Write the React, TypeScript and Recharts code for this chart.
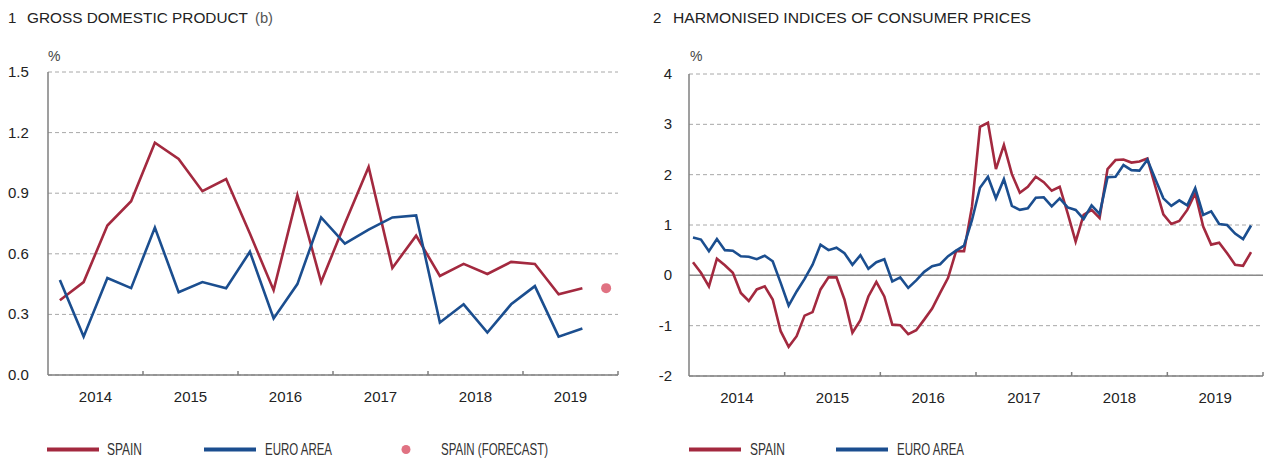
import React from 'react';
import { LineChart, Line, XAxis, YAxis, CartesianGrid, ReferenceLine } from 'recharts';

// year labels shared by both panels
const years = ['2014', '2015', '2016', '2017', '2018', '2019'];

// panel 1: quarterly GDP, q-o-q %, 2014 Q1 .. 2019 Q3
const spainGdp = [0.37, 0.46, 0.74, 0.86, 1.15, 1.07, 0.91, 0.97, 0.70, 0.42, 0.89, 0.46,
  0.75, 1.03, 0.53, 0.69, 0.49, 0.55, 0.50, 0.56, 0.55, 0.40, 0.43];
const euroGdp = [0.47, 0.19, 0.48, 0.43, 0.73, 0.41, 0.46, 0.43, 0.61, 0.28, 0.45, 0.78,
  0.65, 0.72, 0.78, 0.79, 0.26, 0.35, 0.21, 0.35, 0.44, 0.19, 0.23];
const spainGdpForecast = [{ quarter: 23, value: 0.43 }]; // 2019 Q4

// panel 2: monthly HICP, y-o-y %, Jan 2014 .. Nov 2019
const spainHicp = [
  0.26, 0.05, -0.22, 0.33, 0.20, 0.05, -0.35, -0.51, -0.28, -0.22, -0.48, -1.11,
  -1.42, -1.21, -0.80, -0.73, -0.28, -0.04, -0.04, -0.48, -1.14, -0.89, -0.42, -0.13,
  -0.42, -0.98, -0.99, -1.17, -1.09, -0.88, -0.66, -0.35, -0.05, 0.48, 0.48, 1.37,
  2.95, 3.03, 2.11, 2.59, 2.01, 1.64, 1.76, 1.96, 1.85, 1.68, 1.76, 1.23,
  0.67, 1.20, 1.30, 1.14, 2.11, 2.29, 2.30, 2.24, 2.26, 2.32, 1.76, 1.21,
  1.02, 1.08, 1.30, 1.63, 0.97, 0.61, 0.65, 0.44, 0.21, 0.19, 0.46];
const euroHicp = [
  0.75, 0.71, 0.48, 0.72, 0.50, 0.49, 0.38, 0.37, 0.32, 0.39, 0.28, -0.15,
  -0.60, -0.32, -0.07, 0.21, 0.61, 0.50, 0.55, 0.44, 0.21, 0.40, 0.13, 0.26,
  0.32, -0.12, -0.04, -0.25, -0.10, 0.07, 0.18, 0.22, 0.38, 0.49, 0.59, 1.10,
  1.74, 1.96, 1.53, 1.91, 1.38, 1.30, 1.33, 1.54, 1.55, 1.37, 1.53, 1.35,
  1.30, 1.12, 1.39, 1.22, 1.95, 1.96, 2.19, 2.09, 2.08, 2.30, 1.91, 1.53,
  1.38, 1.49, 1.39, 1.73, 1.20, 1.27, 1.02, 1.00, 0.83, 0.72, 0.99];

const gdpTicksY = [0, 0.3, 0.6, 0.9, 1.2, 1.5];
const hicpTicksY = [-2, -1, 0, 1, 2, 3, 4];

const RED = '#a3293f';
const BLUE = '#1b4e8f';
const PINK = '#e07282';
const AXIS = '#7f7f7f';
const GRID = '#a8a8a8';
const TXT = '#222';
const FONT = '"Liberation Sans", Arial, Helvetica, sans-serif';

const gdpData = Array.from({ length: 24 }, (_, i) => ({
  x: i + 0.5,
  spain: i < spainGdp.length ? spainGdp[i] : null,
  euro: i < euroGdp.length ? euroGdp[i] : null,
  forecast: spainGdpForecast.find((f) => f.quarter === i)?.value ?? null,
}));

const hicpData = Array.from({ length: 72 }, (_, i) => ({
  x: i + 0.5,
  spain: i < spainHicp.length ? spainHicp[i] : null,
  euro: i < euroHicp.length ? euroHicp[i] : null,
}));

// year boundaries get a small upward tick, mid-year positions get the label
const makeXTick = (perYear: number) => (props: any) => {
  const { x, y, payload } = props;
  const v = payload.value;
  if (v % perYear === 0) {
    return <line x1={x} x2={x} y1={y} y2={y - 4} stroke={AXIS} strokeWidth={1.5} />;
  }
  return (
    <text x={x} y={y + 27} textAnchor="middle" fontSize={15} fill={TXT} fontFamily={FONT}>
      {years[Math.floor(v / perYear)]}
    </text>
  );
};

const GdpYTick = (props: any) => (
  <text x={8} y={props.y + 5} textAnchor="start" fontSize={15} fill={TXT} fontFamily={FONT}>
    {Number(props.payload.value).toFixed(1)}
  </text>
);

const HicpYTick = (props: any) => (
  <text x={32} y={props.y + 5} textAnchor="end" fontSize={15} fill={TXT} fontFamily={FONT}>
    {String(props.payload.value)}
  </text>
);

const legendText = { fontSize: 16, fill: '#333', fontFamily: FONT, lengthAdjust: 'spacingAndGlyphs' as const };
const titleText = { fontSize: 15, fill: TXT, fontFamily: FONT };

const Overlay = () => (
  <svg width={1264} height={460} style={{ position: 'absolute', left: 0, top: 0, pointerEvents: 'none' }}>
    <text x={8} y={23} {...titleText}>1</text>
    <text x={27} y={23} {...titleText} textLength={221} lengthAdjust="spacingAndGlyphs">GROSS DOMESTIC PRODUCT</text>
    <text x={255} y={23} {...titleText} fill="#555" textLength={18} lengthAdjust="spacingAndGlyphs">(b)</text>
    <text x={653} y={23} {...titleText}>2</text>
    <text x={673} y={23} {...titleText} textLength={358} lengthAdjust="spacingAndGlyphs">HARMONISED INDICES OF CONSUMER PRICES</text>
    <text x={48} y={61} fontSize={14} fill="#444" fontFamily={FONT}>%</text>
    <text x={690} y={61} fontSize={14} fill="#444" fontFamily={FONT}>%</text>

    {/* legend, panel 1 */}
    <line x1={47} x2={99} y1={449.5} y2={449.5} stroke={RED} strokeWidth={4} />
    <text x={107} y={455} textLength={35} {...legendText}>SPAIN</text>
    <line x1={204} x2={256} y1={449.5} y2={449.5} stroke={BLUE} strokeWidth={4} />
    <text x={265} y={455} textLength={67} {...legendText}>EURO AREA</text>
    <circle cx={406} cy={449.5} r={4.5} fill={PINK} />
    <text x={441} y={455} textLength={107} {...legendText}>SPAIN (FORECAST)</text>

    {/* legend, panel 2 */}
    <line x1={689} x2={741} y1={449.5} y2={449.5} stroke={RED} strokeWidth={4} />
    <text x={750} y={455} textLength={35} {...legendText}>SPAIN</text>
    <line x1={836} x2={888} y1={449.5} y2={449.5} stroke={BLUE} strokeWidth={4} />
    <text x={897} y={455} textLength={67} {...legendText}>EURO AREA</text>
  </svg>
);

export default function App() {
  return (
    <div style={{ position: 'absolute', left: 0, top: 0, width: 1264, height: 460, background: '#fff' }}>
      <div style={{ position: 'absolute', left: 0, top: 0 }}>
        <LineChart width={640} height={460} data={gdpData} margin={{ top: 72, right: 22, bottom: 55, left: 0 }}>
          <CartesianGrid vertical={false} stroke={GRID} strokeDasharray="4 3" />
          <XAxis
            type="number"
            dataKey="x"
            domain={[0, 24]}
            ticks={[2, 4, 6, 8, 10, 12, 14, 16, 18, 20, 22, 24]}
            interval={0}
            height={30}
            tickSize={0}
            tickMargin={0}
            tickLine={false}
            axisLine={{ stroke: AXIS, strokeWidth: 1.5 }}
            tick={makeXTick(4)}
          />
          <YAxis
            domain={[0, 1.5]}
            ticks={gdpTicksY}
            interval={0}
            width={48}
            tickSize={0}
            tickMargin={0}
            tickLine={false}
            axisLine={{ stroke: AXIS, strokeWidth: 1.5 }}
            tick={GdpYTick}
          />
          <Line dataKey="spain" stroke={RED} strokeWidth={2.6} dot={false} isAnimationActive={false} type="linear" />
          <Line dataKey="euro" stroke={BLUE} strokeWidth={2.6} dot={false} isAnimationActive={false} type="linear" />
          <Line
            dataKey="forecast"
            stroke="none"
            dot={{ r: 5, fill: PINK, stroke: 'none' }}
            isAnimationActive={false}
          />
        </LineChart>
      </div>
      <div style={{ position: 'absolute', left: 640, top: 0 }}>
        <LineChart width={624} height={460} data={hicpData} margin={{ top: 74, right: 1, bottom: 54, left: 0 }}>
          <CartesianGrid vertical={false} stroke={GRID} strokeDasharray="4 3" />
          <XAxis
            type="number"
            dataKey="x"
            domain={[0, 72]}
            ticks={[6, 12, 18, 24, 30, 36, 42, 48, 54, 60, 66, 72]}
            interval={0}
            height={30}
            tickSize={0}
            tickMargin={0}
            tickLine={false}
            axisLine={{ stroke: AXIS, strokeWidth: 1.5 }}
            tick={makeXTick(12)}
          />
          <YAxis
            domain={[-2, 4]}
            ticks={hicpTicksY}
            interval={0}
            width={49}
            tickSize={0}
            tickMargin={0}
            tickLine={false}
            axisLine={{ stroke: AXIS, strokeWidth: 1.5 }}
            tick={HicpYTick}
          />
          <ReferenceLine y={0} stroke="#8a8a8a" strokeWidth={1.5} />
          <Line dataKey="spain" stroke={RED} strokeWidth={2.6} dot={false} isAnimationActive={false} type="linear" />
          <Line dataKey="euro" stroke={BLUE} strokeWidth={2.6} dot={false} isAnimationActive={false} type="linear" />
        </LineChart>
      </div>
      <Overlay />
    </div>
  );
}
